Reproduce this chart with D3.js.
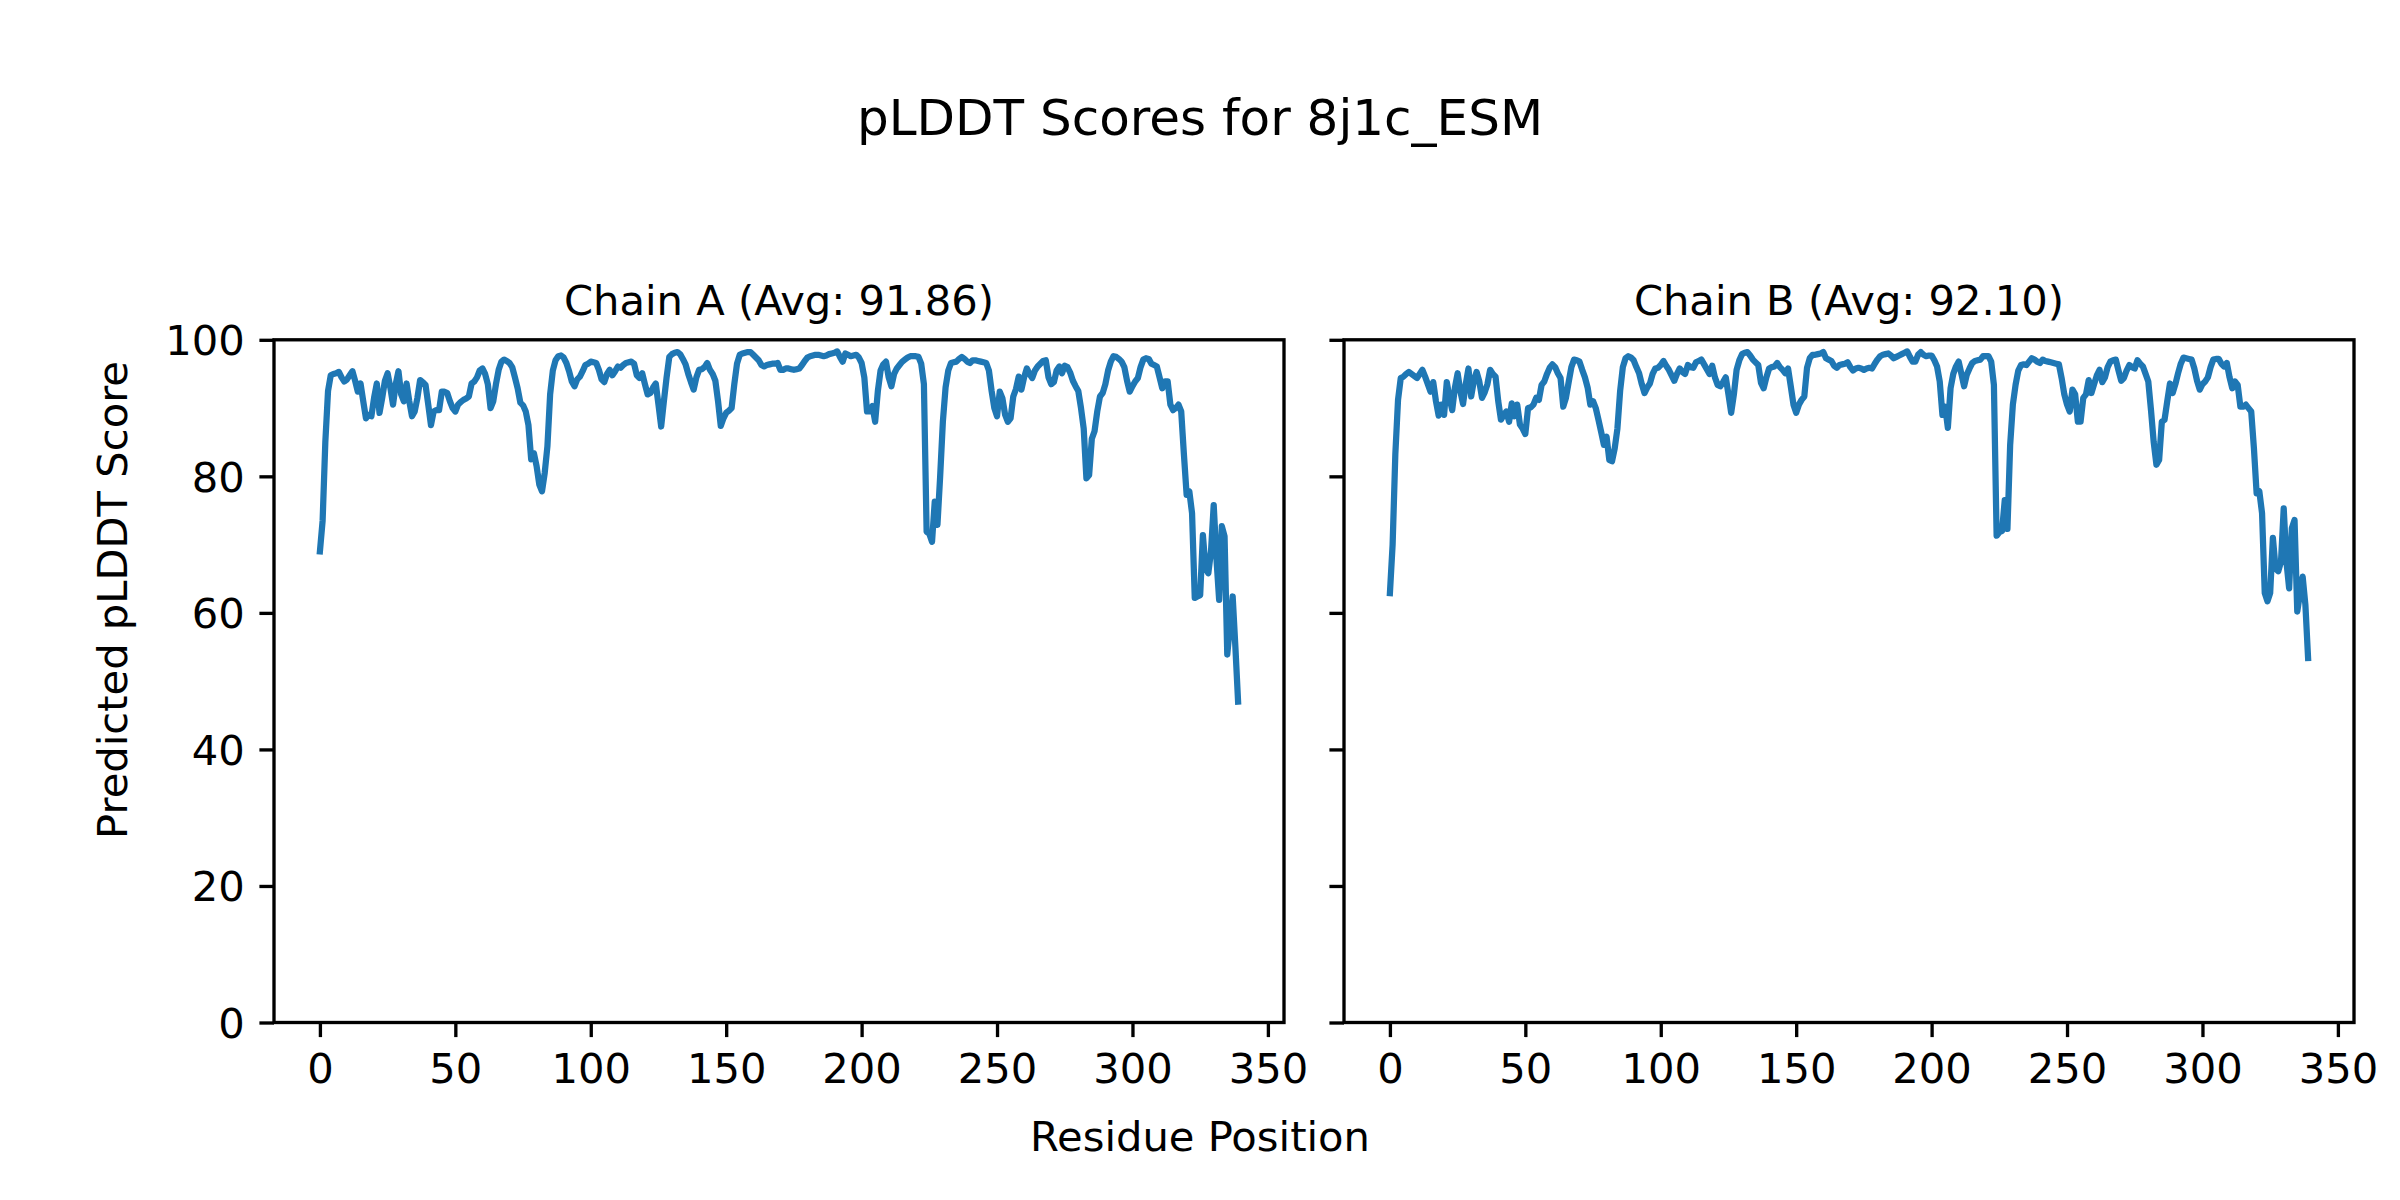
<!DOCTYPE html>
<html>
<head>
<meta charset="utf-8">
<script src="https://cdn.jsdelivr.net/npm/d3@7"></script>
<style>
  body { margin: 0; background: #fff; }
  svg { display: block; }
  text { font-family: "DejaVu Sans", sans-serif; fill: #000; }
</style>
</head>
<body>
<div id="chart"></div>
<script>
// pLDDT per residue (residue 0..339)
const chainA = [
  69, 73.5, 85, 92.5, 94.8, 95.0, 95.1, 95.3, 94.5, 93.9,
  94.2, 94.8, 95.4, 94.0, 92.4, 93.6, 91.0, 88.5, 89.0, 88.8,
  91.5, 93.6, 89.3, 91.5, 94.0, 95.1, 93.0, 90.5, 93.5, 95.4,
  92.0, 91.0, 93.6, 91.0, 88.8, 89.5, 91.5, 94.1, 93.8, 93.4,
  90.5, 87.5, 89.5, 89.7, 89.7, 92.4, 92.4, 92.2, 91.0, 90.0,
  89.5, 90.5, 90.9, 91.2, 91.4, 91.7, 93.6, 93.9, 94.5, 95.5,
  95.8, 95.0, 93.5, 90.0, 91.0, 93.5, 95.6, 96.8, 97.1, 96.9,
  96.6, 96.0, 94.5, 92.9, 90.8, 90.4, 89.5, 87.5, 82.5, 83.4,
  81.5, 78.8, 77.8, 80.5, 84.4, 92.0, 95.5, 97.0, 97.6, 97.7,
  97.4, 96.6, 95.4, 93.9, 93.2, 94.2, 94.6, 95.4, 96.3, 96.5,
  96.8, 96.7, 96.6, 95.6, 94.2, 93.8, 95.0, 95.6, 94.8, 95.4,
  96.1, 95.9, 96.3, 96.6, 96.7, 96.8, 96.5, 94.8, 94.4, 95.1,
  93.5, 92.0, 92.2, 93.0, 93.6, 90.5, 87.3, 91.0, 94.5, 97.5,
  97.9, 98.1, 98.2, 97.9, 97.2, 96.4, 95.0, 93.8, 92.7, 94.5,
  95.6, 95.7, 96.0, 96.6, 95.6, 95.0, 94.0, 91.0, 87.4, 88.5,
  89.3, 89.6, 90.0, 93.5, 96.5, 97.8, 98.0, 98.1, 98.2, 98.2,
  97.8, 97.4, 97.0, 96.3, 96.1, 96.3, 96.4, 96.5, 96.5, 96.6,
  95.6, 95.6, 95.8, 95.8, 95.7, 95.6, 95.7, 95.8, 96.3, 96.9,
  97.4, 97.6, 97.7, 97.8, 97.8, 97.7, 97.6, 97.7, 97.9, 98.0,
  98.1, 98.3, 97.5, 96.8, 98.0, 97.8, 97.6, 97.7, 97.8, 97.4,
  96.6, 94.5, 89.5, 89.5, 90.3, 88.0, 92.5, 95.5, 96.4, 96.8,
  94.5, 93.2, 95.0, 95.8, 96.3, 96.8, 97.1, 97.4, 97.6, 97.6,
  97.6, 97.5, 96.5, 93.5, 71.9, 71.6, 70.4, 76.3, 72.9, 80.0,
  88.0, 93.0, 95.5, 96.6, 96.7, 96.8, 97.2, 97.5, 97.2, 96.8,
  96.6, 97.0, 97.0, 96.9, 96.8, 96.7, 96.6, 95.5, 92.5, 90.0,
  88.8, 92.4, 91.4, 89.0, 88.0, 88.5, 91.7, 92.8, 94.6, 92.7,
  94.5, 95.8, 95.0, 94.4, 95.5, 96.1, 96.5, 96.9, 97.0, 94.5,
  93.5, 93.8, 95.5, 96.1, 95.1, 96.2, 96.0, 95.2, 94.0, 93.2,
  92.5, 90.0, 87.0, 79.7, 80.2, 85.5, 86.6, 89.5, 91.7, 92.2,
  93.5, 95.5, 96.8, 97.6, 97.5, 97.2, 96.8, 96.0, 94.0, 92.4,
  93.2, 93.9, 94.4, 96.0, 97.1, 97.3, 97.2, 96.5, 96.3, 96.1,
  94.5, 92.9, 93.9, 93.9, 90.5, 89.7, 90.0, 90.5, 89.5, 83.2,
  77.3, 77.8, 74.6, 62.2, 62.4, 62.6, 71.4, 66.5, 65.8, 69.0,
  75.8, 68.0, 61.9, 72.7, 71.2, 53.9, 58.0, 62.4, 55.0, 47.0
];

const chainB = [
  62.9, 70.0, 83.2, 91.2, 94.4, 94.6, 95.0, 95.3, 95.0, 94.7,
  94.4, 95.0, 95.6, 94.6, 93.5, 92.4, 93.8, 91.0, 88.9, 90.5,
  89.0, 93.8, 91.5, 89.7, 93.0, 95.1, 92.5, 90.6, 93.5, 95.8,
  91.7, 94.0, 95.3, 93.9, 91.5, 92.3, 93.5, 95.6, 95.0, 94.6,
  91.0, 88.3, 89.0, 89.5, 88.0, 90.7, 88.8, 90.5, 87.6, 87.0,
  86.2, 90.0, 90.1, 90.5, 91.5, 91.2, 93.4, 93.9, 95.0, 95.9,
  96.4, 96.0, 95.1, 94.4, 90.2, 91.5, 93.8, 96.0, 97.1, 97.0,
  96.8, 95.6, 94.5, 93.0, 90.5, 91.0, 90.0, 88.3, 86.5, 84.6,
  85.8, 82.4, 82.2, 84.1, 87.0, 92.5, 96.0, 97.3, 97.6, 97.4,
  97.0, 96.0, 95.1, 93.5, 92.2, 93.0, 93.6, 95.0, 95.8, 95.9,
  96.3, 96.9, 96.2, 95.6, 94.8, 94.0, 95.0, 95.8, 95.3, 95.0,
  96.3, 96.0, 95.9, 96.7, 96.9, 97.1, 96.4, 95.7, 95.0, 96.2,
  94.5, 93.4, 93.2, 93.8, 94.5, 92.0, 89.3, 92.0, 95.6, 97.0,
  97.9, 98.1, 98.2, 97.7, 97.1, 96.7, 96.3, 93.7, 92.9, 94.5,
  95.8, 96.0, 96.1, 96.6, 96.0, 95.6, 95.1, 95.8, 93.2, 90.5,
  89.3, 90.5, 91.2, 91.7, 95.9, 97.3, 97.8, 97.8, 97.9, 98.0,
  98.2, 97.3, 97.1, 96.9, 96.2, 95.9, 96.3, 96.4, 96.5, 96.7,
  96.0, 95.5, 95.8, 95.9, 95.8, 95.6, 95.8, 95.9, 95.8, 96.5,
  97.1, 97.6, 97.8, 97.9, 98.0, 97.7, 97.3, 97.5, 97.7, 97.9,
  98.1, 98.3, 97.5, 96.8, 96.8, 97.8, 98.2, 97.8, 97.6, 97.7,
  97.7, 97.0, 96.1, 93.9, 89.0, 90.2, 87.1, 92.9, 95.0, 96.1,
  96.8, 95.0, 93.2, 94.9, 95.8, 96.6, 96.9, 97.0, 97.1, 97.6,
  97.6, 97.6, 96.8, 93.4, 71.3, 71.8, 72.0, 76.5, 72.3, 84.6,
  90.5, 93.4, 95.5, 96.3, 96.4, 96.3, 96.8, 97.3, 97.1, 96.8,
  96.6, 97.1, 96.9, 96.8, 96.7, 96.6, 96.5, 96.4, 94.4, 92.0,
  90.5, 89.5, 92.7, 92.0, 88.0, 88.0, 91.5, 92.0, 94.1, 92.2,
  93.5, 94.8, 95.6, 93.8, 94.5, 96.0, 96.8, 97.0, 97.1, 95.5,
  94.0, 94.4, 95.5, 96.3, 96.0, 95.8, 97.0, 96.5, 96.1, 95.0,
  93.9, 89.7, 85.0, 81.7, 82.4, 88.0, 88.3, 91.0, 93.6, 92.2,
  93.5, 95.1, 96.5, 97.4, 97.3, 97.2, 97.1, 95.8, 94.0, 92.7,
  93.5, 93.9, 94.5, 96.0, 97.1, 97.2, 97.2, 96.5, 96.1, 96.6,
  94.5, 92.9, 93.9, 93.4, 90.2, 90.2, 90.5, 90.0, 89.5, 84.1,
  77.5, 77.8, 74.6, 62.9, 61.7, 62.9, 71.0, 66.5, 66.1, 67.5,
  75.3, 67.5, 63.6, 72.4, 73.6, 60.2, 62.8, 65.3, 61.2, 53.4
];

const chainTitles = ['Chain A (Avg: 91.86)', 'Chain B (Avg: 92.10)'];
const xTicks = [0, 50, 100, 150, 200, 250, 300, 350];
const yTicks = [0, 20, 40, 60, 80, 100];

const width = 2400;
const height = 1200;
const plotTop = 339.8, plotBottom = 1022.5;
const panels = [
  { left: 274, right: 1284, values: chainA, title: chainTitles[0], labels: true },
  { left: 1344, right: 2354, values: chainB, title: chainTitles[1], labels: false }
];
const lw = 3.33;      // 0.8pt at 300dpi
const tickLen = 14.6; // 3.5pt

const svg = d3.select('#chart')
  .append('svg')
  .attr('width', width)
  .attr('height', height);

svg.append('rect').attr('width', width).attr('height', height).attr('fill', '#fff');

panels.forEach(p => {
  const pts = p.values.map((v, i) => [i, v]);
  const ext = d3.extent(pts, d => d[0]);
  const pad = (ext[1] - ext[0]) * 0.05;

  const x = d3.scaleLinear()
    .domain([ext[0] - pad, ext[1] + pad])
    .range([p.left, p.right]);

  const y = d3.scaleLinear()
    .domain([0, 100])
    .range([plotBottom, plotTop]);

  const g = svg.append('g');

  // the series
  g.append('path')
    .datum(pts)
    .attr('fill', 'none')
    .attr('stroke', '#1f77b4')
    .attr('stroke-width', 6.25)
    .attr('stroke-linejoin', 'round')
    .attr('stroke-linecap', 'square')
    .attr('d', d3.line().x(d => x(d[0])).y(d => y(d[1])));

  // frame
  g.append('rect')
    .attr('x', p.left)
    .attr('y', plotTop)
    .attr('width', p.right - p.left)
    .attr('height', plotBottom - plotTop)
    .attr('fill', 'none')
    .attr('stroke', '#000')
    .attr('stroke-width', lw);

  // axes
  const ax = g.append('g')
    .attr('transform', `translate(0,${plotBottom})`)
    .call(d3.axisBottom(x).tickValues(xTicks).tickSize(tickLen).tickPadding(tickLen).tickSizeOuter(0));
  ax.select('.domain').remove();

  const ay = g.append('g')
    .attr('transform', `translate(${p.left},0)`)
    .call(d3.axisLeft(y).tickValues(yTicks).tickSize(tickLen).tickPadding(tickLen).tickSizeOuter(0)
      .tickFormat(p.labels ? d3.format('d') : () => ''));
  ay.select('.domain').remove();

  [ax, ay].forEach(a => {
    a.attr('font-size', 41.67).attr('font-family', '"DejaVu Sans", sans-serif');
    a.selectAll('.tick line').attr('stroke', '#000').attr('stroke-width', lw);
    a.selectAll('.tick text').attr('fill', '#000');
  });
  ax.selectAll('.tick text').attr('dy', '0.76em');
  ay.selectAll('.tick text').attr('dy', '0.36em');

  g.append('text')
    .attr('x', (p.left + p.right) / 2)
    .attr('y', plotTop - 25)
    .attr('text-anchor', 'middle')
    .attr('font-size', 41.67)
    .text(p.title);
});

svg.append('text')
  .attr('x', width / 2)
  .attr('y', 134.5)
  .attr('text-anchor', 'middle')
  .attr('font-size', 50)
  .text('pLDDT Scores for 8j1c_ESM');

svg.append('text')
  .attr('x', width / 2)
  .attr('y', 1151)
  .attr('text-anchor', 'middle')
  .attr('font-size', 41.67)
  .text('Residue Position');

svg.append('text')
  .attr('transform', 'translate(112,600) rotate(-90)')
  .attr('text-anchor', 'middle')
  .attr('dominant-baseline', 'central')
  .attr('font-size', 41.67)
  .text('Predicted pLDDT Score');
</script>
</body>
</html>
